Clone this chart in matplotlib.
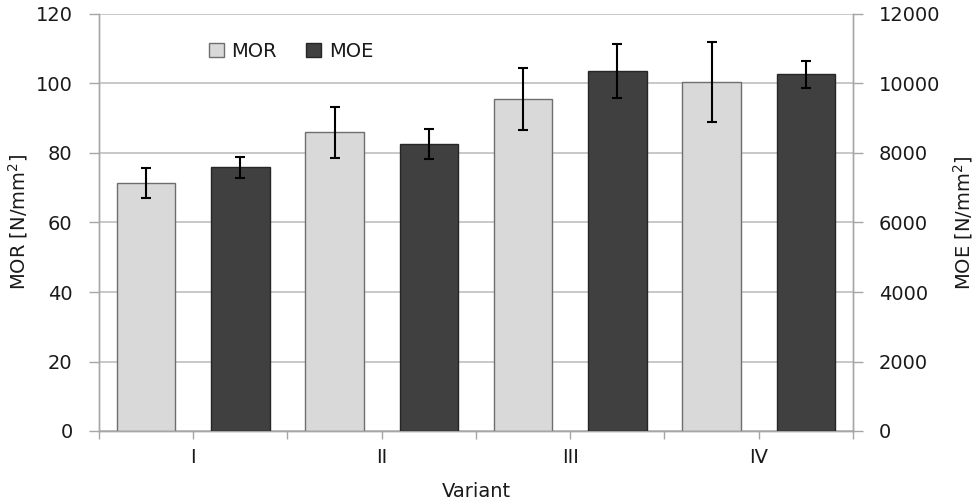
import numpy as np
import matplotlib
matplotlib.use("Agg")
import matplotlib.pyplot as plt
from matplotlib.ticker import MultipleLocator, FixedLocator

variants = ["I", "II", "III", "IV"]
mor_mean = [71.4, 86.0, 95.5, 100.4]
mor_err = [4.3, 7.3, 9.0, 11.4]
moe_mean = [7590, 8260, 10370, 10260]
moe_err = [300, 430, 780, 390]

LIGHT = "#d9d9d9"
DARK = "#404040"
GRID = "#bfbfbf"
AXIS = "#a6a6a6"
TEXT = "#1a1a1a"

plt.rcParams.update({
    "font.family": ["DejaVu Sans"],
    "font.size": 14,
    "text.color": TEXT,
    "axes.labelcolor": TEXT,
    "xtick.color": AXIS,
    "ytick.color": AXIS,
    "xtick.labelcolor": TEXT,
    "ytick.labelcolor": TEXT,
})

fig = plt.figure(figsize=(9.79, 5.03), dpi=100)
ax = fig.add_axes([99 / 979, (503 - 431) / 503, (853 - 99) / 979, (431 - 14) / 503])
ax2 = ax.twinx()

x = np.arange(len(variants))
width = 0.31
err_kw = dict(ecolor="black", elinewidth=1.5, capsize=3.4, capthick=1.5)

ax.bar(x - 0.25, mor_mean, width, yerr=mor_err, color=LIGHT, edgecolor="#6e6e6e",
       linewidth=1, label="MOR", error_kw=err_kw, zorder=3)
ax2.bar(x + 0.25, moe_mean, width, yerr=moe_err, color=DARK, edgecolor="#262626",
        linewidth=1, label="MOE", error_kw=err_kw, zorder=3)

ax.set_xlim(-0.5, len(variants) - 0.5)
ax.set_ylim(0, 120)
ax2.set_ylim(0, 12000)
ax.yaxis.set_major_locator(MultipleLocator(20))
ax2.yaxis.set_major_locator(MultipleLocator(2000))

ax.set_xticks(x)
ax.set_xticklabels(variants)
ax.xaxis.set_minor_locator(FixedLocator(np.arange(-0.5, len(variants), 1.0)))
ax.tick_params(axis="x", which="both", length=6, width=1, pad=6)
ax.tick_params(axis="y", length=7, width=1, pad=12)
ax2.tick_params(axis="y", length=7, width=1, pad=11.5)

ax.grid(axis="y", color=GRID, linewidth=1.2, zorder=0)
ax.set_axisbelow(True)

for a in (ax, ax2):
    a.spines["top"].set_visible(False)
    for side in ("left", "right", "bottom"):
        a.spines[side].set_color(AXIS)
        a.spines[side].set_linewidth(1)

ax.set_xlabel("Variant")
ax.set_ylabel("MOR [N/mm$^2$]")
ax2.set_ylabel("MOE [N/mm$^2$]")
ax.xaxis.set_label_coords(0.5, -0.122)
ax.yaxis.set_label_coords(-0.0915, 0.5)
ax2.yaxis.set_label_coords(1.13, 0.5)

h1, l1 = ax.get_legend_handles_labels()
h2, l2 = ax2.get_legend_handles_labels()
ax.legend(h1 + h2, l1 + l2, loc="upper left", bbox_to_anchor=(0.123, 0.975), ncol=2,
          frameon=False, handlelength=0.75, handleheight=0.75, handletextpad=0.4,
          columnspacing=1.5, fontsize=14)

fig.savefig("out.png", dpi=100, facecolor="white")
